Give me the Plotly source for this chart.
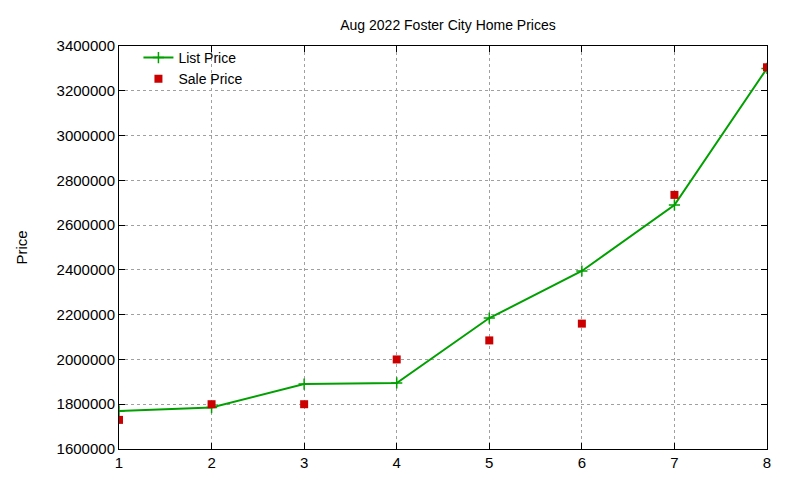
import plotly.graph_objects as go

x = [1, 2, 3, 4, 5, 6, 7, 8]
list_price = [1770000, 1785000, 1890000, 1895000, 2185000, 2395000, 2690000, 3300000]
sale_price = [1730000, 1800000, 1800000, 2000000, 2085000, 2160000, 2735000, 3305000]
yticks = list(range(1600000, 3400001, 200000))

fig = go.Figure()
fig.add_trace(go.Scatter(x=x, y=list_price, mode="lines+markers", name="List Price",
                         line=dict(color="#00a000", width=2),
                         marker=dict(symbol="cross-thin", size=8, line=dict(color="#00a000", width=1.5))))
fig.add_trace(go.Scatter(x=x, y=sale_price, mode="markers", name="Sale Price",
                         marker=dict(symbol="square", size=8, color="#cc0000")))

axis = dict(showline=True, linecolor="black", linewidth=1, mirror="ticks", ticks="inside",
            ticklen=6, tickcolor="black", showgrid=True, gridcolor="#a0a0a0", griddash="dot",
            gridwidth=1, zeroline=False, tickfont=dict(family="Liberation Sans, Arial", size=15, color="black"))
fig.update_layout(
    width=800, height=480, plot_bgcolor="white", paper_bgcolor="white",
    margin=dict(l=111, r=41, t=38, b=39),
    title=dict(text="Aug 2022 Foster City Home Prices", x=0.55, y=0.975, xanchor="center",
               font=dict(family="Liberation Sans, Arial", size=14, color="black")),
    xaxis=dict(axis, range=[1, 8], tickvals=x),
    yaxis=dict(axis, range=[1600000, 3400000], tickvals=yticks, tickformat="d",
               title=dict(text="Price", standoff=25, font=dict(family="Liberation Sans, Arial", size=15, color="black"))),
    legend=dict(x=0.03, y=1.01, xanchor="left", yanchor="top", bgcolor="rgba(0,0,0,0)",
                font=dict(family="Liberation Sans, Arial", size=14, color="black"), tracegroupgap=0),
    showlegend=True,
)
fig.write_html("out.html")
